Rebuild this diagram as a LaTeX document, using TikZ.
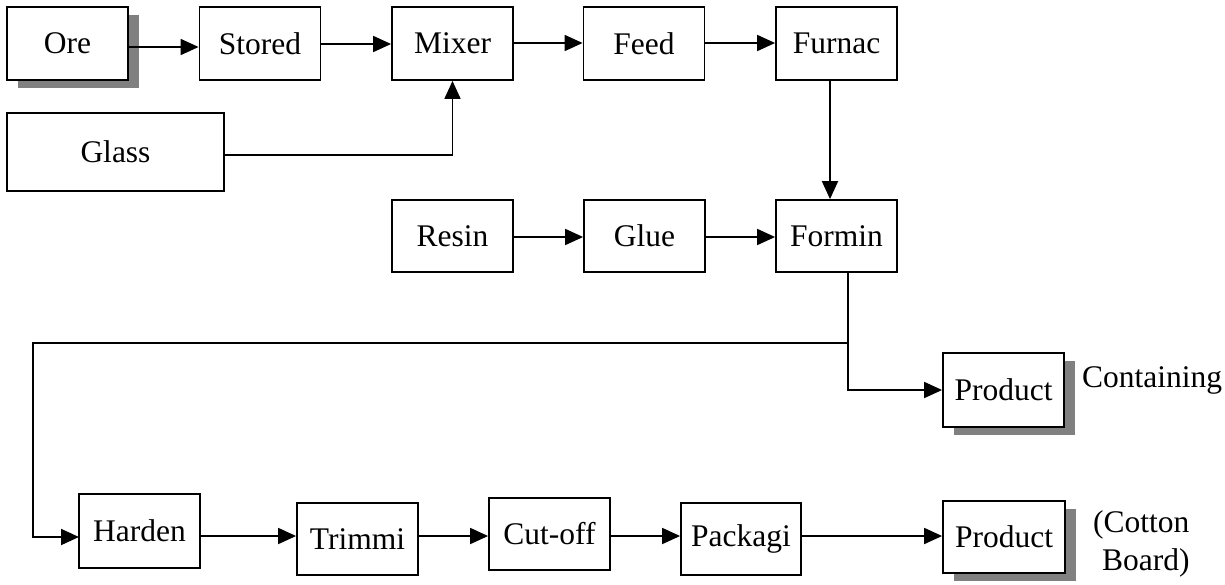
\documentclass[tikz,border=0pt]{standalone}
\usepackage{fontspec}
\setmainfont{Liberation Serif}
\usetikzlibrary{arrows.meta}
\begin{document}
\begin{tikzpicture}[x=1pt,y=-1pt,
  every node/.style={font=\fontsize{31.5}{36}\selectfont},
  stepbox/.style={draw=black, line width=1.8pt, fill=white, rectangle,
    minimum width=121pt, minimum height=73pt, inner sep=0pt},
  shadowbox/.style={stepbox, preaction={fill=black!50, draw=none,
    transform canvas={xshift=11pt, yshift=-8pt}}},
  flow/.style={line width=1.8pt, -{Triangle[length=18pt,width=16pt]}},
  note/.style={inner sep=0pt, anchor=base west}
]
\useasboundingbox (0,0) rectangle (1225,584);

% first row
\node[shadowbox] (ore)    at (67.5,43.5) {Ore};
\node[stepbox]   (stored) at (260,43.5)  {Stored};
\node[stepbox]   (mixer)  at (452.5,43.5) {Mixer};
\node[stepbox]   (feed)   at (644,43.5)  {Feed};
\node[stepbox]   (furnac) at (836.5,43.5) {Furnac};
\node[stepbox, minimum width=217pt, minimum height=78pt] (glass) at (115.5,152) {Glass};

% second row
\node[stepbox, minimum height=72pt] (resin)  at (452.5,236) {Resin};
\node[stepbox, minimum height=72pt] (glue)   at (644.5,236) {Glue};
\node[stepbox, minimum height=72pt] (formin) at (836.5,236) {Formin};

% side product
\node[shadowbox, minimum height=74pt] (prodA) at (1003.5,390) {Product};
\node[note] (containing) at (1082,387) {Containing};

% bottom row
\node[stepbox, minimum height=74pt] (harden)  at (139.5,531) {Harden};
\node[stepbox, minimum height=72pt] (trimmi)  at (357.5,539) {Trimmi};
\node[stepbox, minimum height=72pt] (cutoff)  at (549.5,534) {Cut-off};
\node[stepbox, minimum width=120pt, minimum height=72pt] (packagi) at (741,539) {Packagi};
\node[shadowbox, minimum width=122pt, minimum height=72pt] (prodB) at (1004,537) {Product};
\node[note] (cotton) at (1093,532) {(Cotton};
\node[note] (board)  at (1102,570) {Board)};

% connectors, first row
\draw[flow] (ore.east |- 0,47)   -- (stored.west |- 0,47);
\draw[flow] (stored.east |- 0,44) -- (mixer.west |- 0,44);
\draw[flow] (mixer.east |- 0,43)  -- (feed.west |- 0,43);
\draw[flow] (feed.east |- 0,43)   -- (furnac.west |- 0,43);
\draw[flow] (glass.east |- 0,155) -| (mixer.south);
\draw[flow] (furnac.south -| 830,0) -- (formin.north -| 830,0);

% connectors, second row
\draw[flow] (resin.east |- 0,237) -- (glue.west |- 0,237);
\draw[flow] (glue.east |- 0,237)  -- (formin.west |- 0,237);

% split below the forming stage
\coordinate (split) at (848,343);
\coordinate (hardin) at (79,537);
\draw[flow] (formin.south -| split) |- (prodA.west);
\draw[flow] (split) -- (33,343) |- (hardin);

% connectors, bottom row
\draw[flow] (harden.east |- 0,536)  -- (trimmi.west |- 0,536);
\draw[flow] (trimmi.east |- 0,536)  -- (cutoff.west |- 0,536);
\draw[flow] (cutoff.east |- 0,536)  -- (packagi.west |- 0,536);
\draw[flow] (packagi.east |- 0,536) -- (prodB.west |- 0,536);
\end{tikzpicture}
\end{document}
